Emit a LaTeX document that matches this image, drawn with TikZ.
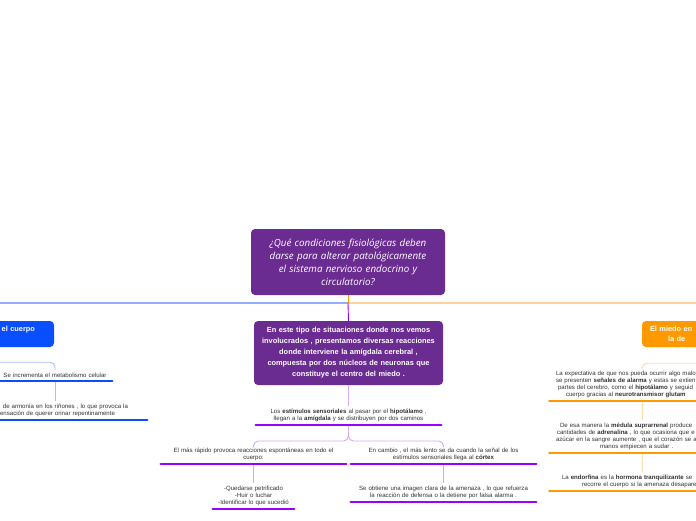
\documentclass[tikz,border=0pt]{standalone}
\usepackage{fontspec}
\setmainfont{Liberation Sans}
\newfontfamily\handfont{Open Sans}
\usepackage{tikz}
\usetikzlibrary{positioning}
\definecolor{rootpurple}{HTML}{6A2C91}
\definecolor{ulpurple}{HTML}{9900FF}
\definecolor{palepurple}{HTML}{D6A8F7}
\definecolor{cuerpoblue}{HTML}{0A4FFF}
\definecolor{topblue}{HTML}{5C82FF}
\definecolor{paleblue}{HTML}{ADC0FF}
\definecolor{miedoorange}{HTML}{FF9900}
\definecolor{toporange}{HTML}{FFBA66}
\definecolor{paleorange}{HTML}{FFDCA8}
\definecolor{textgray}{HTML}{333333}

\begin{document}
\begin{tikzpicture}[x=1pt, y=-1pt,
  rootbox/.style={rounded corners=4pt, fill=rootpurple, minimum width=194pt, minimum height=66pt, text width=190pt, inner xsep=2pt, align=center, text=white, font=\handfont\itshape\fontsize{9.8}{13}\selectfont},
  topic/.style={rounded corners=4pt, fill=rootpurple, minimum width=189pt, minimum height=64pt, text width=185pt, inner xsep=2pt, align=center, text=white, font=\bfseries\fontsize{7.4}{11}\selectfont},
  mainbox/.style={rounded corners=4pt, fill=#1, minimum height=26pt, text=white, font=\bfseries\fontsize{7.4}{10}\selectfont},
  leaf/.style={text width=#1, align=center, inner xsep=0pt, inner ysep=3pt, text=textgray, font=\fontsize{6.1}{6.9}\selectfont},
  uline/.style={draw=#1, line width=2.8pt, line cap=round},
  branch/.style={draw=#1, line width=0.9pt, rounded corners=5pt}
]
  \fill[white] (0,0) rectangle (696,520);
  \useasboundingbox (0,0) rectangle (696,520);

  % centre
  \node[rootbox] (question) at (348,262) {¿Qué condiciones fisiológicas deben\\darse para alterar patológicamente\\el sistema nervioso endocrino y\\circulatorio?};
  \coordinate (hub) at (348,303);
  \node[topic] (situacion) at (348.5,353) {En este tipo de situaciones donde nos vemos\\involucrados , presentamos diversas reacciones\\donde interviene la amígdala cerebral ,\\compuesta por dos núcleos de neuronas que\\constituye el centro del miedo .};

  % main branches
  \node[mainbox=cuerpoblue, minimum width=134pt, text width=96pt, inner xsep=19pt, align=right] (cuerpo) at (-13,334) {el cuerpo\\\mbox{}};
  \node[mainbox=miedoorange, minimum width=138pt, text width=122pt, inner xsep=8pt, align=left] (miedo) at (711,334) {El miedo en\\\hspace*{18pt}la de};

  \draw[branch=topblue, line width=1.3pt] (hub) -| (cuerpo.north);
  \draw[branch=toporange, line width=1.3pt] (hub) -| (miedo.north);
  \draw[branch=miedoorange] (question.south) -- (hub);
  \draw[branch=ulpurple] (hub) -- (situacion.north);

  % centre column
  \node[leaf=185pt, anchor=south] (estimulos) at (348.5,425) {Los \textbf{estímulos sensoriales} al pasar por el \textbf{hipotálamo} ,\\llegan a la \textbf{amígdala} y se distribuyen por dos caminos};
  \node[leaf=185pt, anchor=south] (rapido) at (253.5,464) {El más rápido provoca reacciones espontáneas en todo el\\cuerpo:};
  \node[leaf=185pt, anchor=south] (lento) at (443.5,464) {En cambio , el más lento se da cuando la señal de los\\estímulos sensoriales llega al \textbf{córtex}};
  \node[leaf=81pt, anchor=south] (reaccion) at (253.5,509) {-Quedarse petrificado\\-Huir o luchar\\-Identificar lo que sucedió};
  \node[leaf=185pt, anchor=south] (imagen) at (443.5,502) {Se obtiene una imagen clara de la amenaza , lo que refuerza\\la reacción de defensa o la detiene por falsa alarma .};

  \draw[branch=palepurple] (situacion.south) -- (estimulos.north);
  \draw[branch=palepurple] (estimulos.south) -- ++(0,16) -| (rapido.north);
  \draw[branch=palepurple] (estimulos.south) -- ++(0,16) -| (lento.north);
  \draw[branch=palepurple] (rapido.south) -- (reaccion.north);
  \draw[branch=palepurple] (lento.south) -- (imagen.north);

  \foreach \n in {estimulos,rapido,lento,reaccion,imagen}
    \draw[uline=ulpurple] (\n.south west) -- (\n.south east);

  % left branch
  \node[leaf=114pt, anchor=south] (metabolismo) at (55,381) {Se incrementa el metabolismo celular};
  \node[leaf=166pt, inner xsep=19pt, align=right, anchor=south] (rinones) at (45,420) {de armonía en los riñones , lo que provoca la\\sensación de querer orinar repentinamente\hspace*{13pt}};

  \draw[branch=paleblue] (cuerpo.south) -- ++(0,15) -| (metabolismo.north);
  \draw[branch=paleblue] (metabolismo.south) -- (metabolismo.south |- rinones.north);
  \foreach \n in {metabolismo,rinones}
    \draw[uline=cuerpoblue] (\n.south west) -- (\n.south east);

  % right branch
  \node[leaf=172pt, inner xsep=6.5pt, align=left, anchor=south] (expectativa) at (642,401) {La expectativa de que nos pueda ocurrir algo malo\\se presenten \textbf{señales de alarma} y estas se extien\\\hspace*{2pt}partes del cerebro, como el \textbf{hipotálamo} y seguid\\\hspace*{10pt}cuerpo gracias al \textbf{neurotransmisor glutam}};
  \node[leaf=172pt, inner xsep=6.5pt, align=left, anchor=south] (medula) at (642,453) {\hspace*{4pt}De esa manera la \textbf{médula suprarrenal} produce\\\hspace*{1pt}cantidades de \textbf{adrenalina} , lo que ocasiona que e\\azúcar en la sangre aumente , que el corazón se ac\\\hspace*{44pt}manos empiecen a sudar .};
  \node[leaf=172pt, inner xsep=6.5pt, align=left, anchor=south] (endorfina) at (642,491) {\hspace*{6pt}La \textbf{endorfina} es la \textbf{hormona tranquilizante} se\\\hspace*{26pt}recorre el cuerpo si la amenaza desaparec};

  \draw[branch=paleorange] (miedo.south) -- ++(0,16) -| (expectativa.north);
  \draw[branch=paleorange] (expectativa.south) -- (medula.north);
  \draw[branch=paleorange] (medula.south) -- (endorfina.north);
  \foreach \n in {expectativa,medula,endorfina}
    \draw[uline=miedoorange] (\n.south west) -- (\n.south east);
\end{tikzpicture}
\end{document}
